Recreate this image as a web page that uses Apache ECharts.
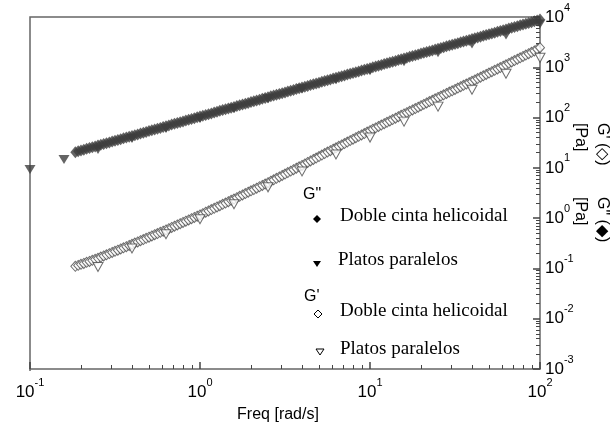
<!DOCTYPE html>
<html><head><meta charset="utf-8">
<script src="https://cdn.jsdelivr.net/npm/echarts@6/dist/echarts.min.js"></script>
<style>html,body{margin:0;padding:0;background:#fff}#c{width:611px;height:428px}</style>
</head><body><div id="c"></div>
<script>
// Dense sweep (Doble cinta helicoidal)
const freqDense = [0.1848,0.192,0.1995,0.2073,0.2154,0.2238,0.2326,0.2417,0.2512,0.261,0.2712,0.2818,0.2929,0.3043,0.3162,0.3286,0.3415,0.3548,0.3687,0.3831,0.3981,0.4137,0.4299,0.4467,0.4642,0.4823,0.5012,0.5208,0.5412,0.5623,0.5843,0.6072,0.631,0.6556,0.6813,0.7079,0.7356,0.7644,0.7943,0.8254,0.8577,0.8913,0.9261,0.9624,
1,1.039,1.08,1.122,1.166,1.212,1.259,1.308,1.359,1.413,1.468,1.525,1.585,1.647,1.711,1.778,1.848,1.92,1.995,2.073,2.154,2.239,2.326,2.417,2.512,2.61,2.712,2.818,2.929,3.043,3.162,3.286,3.415,3.548,3.687,3.831,3.981,4.137,4.299,4.467,4.642,4.823,5.012,5.208,5.412,5.623,5.843,6.072,6.31,6.556,6.813,7.079,7.356,7.644,7.943,8.254,8.577,8.913,9.261,9.624,
10,10.39,10.8,11.22,11.66,12.12,12.59,13.08,13.59,14.13,14.68,15.25,15.85,16.47,17.11,17.78,18.48,19.2,19.95,20.73,21.54,22.39,23.26,24.17,25.12,26.1,27.12,28.18,29.29,30.43,31.62,32.86,34.15,35.48,36.87,38.31,39.81,41.37,42.99,44.67,46.42,48.23,50.12,52.08,54.12,56.23,58.43,60.72,63.1,65.56,68.13,70.79,73.56,76.44,79.43,82.54,85.77,89.13,92.61,96.24,100];
const gppDoble = [20.4,21.3,22.2,23.0,23.9,24.8,25.8,26.7,27.7,28.8,29.9,31.0,32.1,33.3,34.5,35.8,37.2,38.7,40.2,41.6,43.1,44.7,46.3,48.1,50.0,51.9,53.9,55.9,58.0,60.1,62.3,64.7,67.2,69.8,72.5,75.2,77.9,80.8,83.8,87.0,90.3,93.8,97.4,101,
105,109,113,117,121,126,131,136,141,146,152,157,163,169,176,182,189,196,204,211,219,227,236,245,254,264,274,284,295,306,317,329,342,355,368,382,396,411,426,442,459,476,494,513,532,552,573,595,617,640,664,689,715,742,770,799,829,860,893,926,
961,997,1035,1074,1114,1156,1200,1245,1292,1341,1391,1444,1498,1554,1613,1674,1736,1802,1870,1940,2013,2089,2167,2249,2334,2422,2513,2607,2705,2807,2913,3023,3137,3255,3377,3504,3636,3773,3915,4063,4216,4374,4539,4710,4887,5071,5262,5460,5666,5879,6100,6330,6568,6815,7072,7338,7614,7901,8198,8530,8900];
const gpDoble = [0.110,0.115,0.121,0.126,0.132,0.138,0.145,0.152,0.159,0.168,0.177,0.187,0.197,0.208,0.219,0.231,0.244,0.257,0.271,0.286,0.302,0.319,0.337,0.356,0.376,0.397,0.419,0.443,0.468,0.494,0.522,0.551,0.582,0.617,0.653,0.692,0.733,0.776,0.822,0.871,0.923,0.977,1.035,1.096,
1.16,1.23,1.31,1.39,1.48,1.57,1.67,1.77,1.88,2.00,2.13,2.26,2.40,2.55,2.72,2.89,3.08,3.28,3.49,3.71,3.95,4.21,4.48,4.77,5.07,5.42,5.79,6.19,6.61,7.06,7.54,8.06,8.61,9.20,9.83,10.5,11.2,12.0,12.8,13.7,14.7,15.7,16.8,18.0,19.2,20.6,22.0,23.5,25.1,26.8,28.6,30.5,32.6,34.8,37.2,39.7,42.3,45.2,48.2,51.5,
55.0,58.6,62.4,66.5,70.8,75.4,80.4,85.6,91.2,97.4,104,111,118,125,133,142,151,161,172,183,195,208,221,236,251,267,284,302,321,341,363,386,411,437,464,494,525,559,596,635,676,720,767,817,871,928,989,1053,1122,1196,1274,1357,1445,1540,1641,1748,1862,1984,2113,2290,2450];
// Platos paralelos
const freqPlatosGpp = [0.1,0.1585,0.2512,0.3981,0.631,1,1.585,2.512,3.981,6.31,10,15.85,25.12,39.81,63.1,100];
const gppPlatos = [9.3,14.7,23.2,38.4,60.5,95.5,151,238,375,565,853,1285,1937,2917,4400,7260];
const freqPlatosGp = [0.2512,0.3981,0.631,1,1.585,2.512,3.981,6.31,10,15.85,25.12,39.81,63.1,100];
const gpPlatos = [0.107,0.25,0.48,0.95,1.89,4.1,8.5,18.5,40,83,165,358,743,1542];
// Axis ticks
const xMinorTicks = [0.2,0.3,0.4,0.5,0.6,0.7,0.8,0.9,2,3,4,5,6,7,8,9,20,30,40,50,60,70,80,90];
const yMinorTicks = [0.002,0.003,0.004,0.005,0.006,0.007,0.008,0.009,0.02,0.03,0.04,0.05,0.06,0.07,0.08,0.09,0.2,0.3,0.4,0.5,0.6,0.7,0.8,0.9,2,3,4,5,6,7,8,9,20,30,40,50,60,70,80,90,200,300,400,500,600,700,800,900,2000,3000,4000,5000,6000,7000,8000,9000];

const zip = (a,b)=>a.map((v,i)=>[v,b[i]]);
const AX = '#666666', TK = '#444444', SER = '#3d3d3d';
const SANS = 'Liberation Sans', SERIF = 'Liberation Serif';
function pow10(v){ const e = Math.round(Math.log10(v)); return '{b|10}{s|' + e + '}'; }
const rich = {
  b:{fontSize:17, lineHeight:30, fontFamily:SANS, color:'#000'},
  s:{fontSize:11, lineHeight:11, fontFamily:SANS, color:'#000', verticalAlign:'top'}
};
const G = {left:30, right:71, top:17, bottom:57};
const W = 611, H = 428;
const chart = echarts.init(document.getElementById('c'));
chart.setOption({
  animation:false,
  backgroundColor:'#fff',
  grid:G,
  xAxis:[
    {type:'log', min:0.1, max:100, position:'bottom', splitLine:{show:false},
      axisLine:{show:true, lineStyle:{color:AX, width:1.5}},
      axisTick:{show:true, inside:true, length:7, lineStyle:{color:TK, width:1.5}},
      axisLabel:{show:true, margin:8, formatter:pow10, rich:rich},
      name:'Freq [rad/s]', nameLocation:'middle', nameGap:38, nameTextStyle:{fontSize:16, fontFamily:SANS, color:'#000', padding:[0,14,0,0]}},
    {type:'log', min:0.1, max:100, position:'bottom', splitLine:{show:false}, axisLine:{show:false}, axisLabel:{show:false},
      axisTick:{show:true, inside:true, length:4, customValues:xMinorTicks, lineStyle:{color:TK, width:1}}}
  ],
  yAxis:[
    {type:'log', min:0.001, max:10000, interval:1, position:'right', splitLine:{show:false},
      axisLine:{show:true, lineStyle:{color:AX, width:1.5}},
      axisTick:{show:true, inside:true, length:7, lineStyle:{color:TK, width:1.5}},
      axisLabel:{show:true, margin:5, formatter:pow10, rich:rich}},
    {type:'log', min:0.001, max:10000, position:'right', splitLine:{show:false}, axisLine:{show:false}, axisLabel:{show:false},
      axisTick:{show:true, inside:true, length:4, customValues:yMinorTicks, lineStyle:{color:TK, width:1}}}
  ],
  series:[
    {name:'G" Platos paralelos', type:'scatter', data:zip(freqPlatosGpp,gppPlatos),
      symbol:'triangle', symbolRotate:180, symbolSize:[11,9], itemStyle:{color:SER}, clip:false},
    {name:'G" Doble cinta helicoidal', type:'scatter', data:zip(freqDense,gppDoble),
      symbol:'diamond', symbolSize:[10,12], itemStyle:{color:SER}},
    {name:"G' Doble cinta helicoidal", type:'scatter', data:zip(freqDense,gpDoble),
      symbol:'diamond', symbolSize:[9,10], itemStyle:{color:'#fff', borderColor:'#4a4a4a', borderWidth:1}},
    {name:"G' Platos paralelos", type:'scatter', data:zip(freqPlatosGp,gpPlatos),
      symbol:'triangle', symbolRotate:180, symbolSize:[10,9], itemStyle:{color:'#fff', borderColor:'#4a4a4a', borderWidth:1}}
  ],
  graphic:[
    {type:'polyline', shape:{points:[[G.left, H-G.bottom],[G.left, G.top],[W-G.right, G.top]]}, style:{stroke:AX, lineWidth:1.5, fill:null}, silent:true},
    {type:'text', x:303, y:195, style:{text:'G"', fontSize:16, fontFamily:SANS, fill:'#000', align:'left', verticalAlign:'middle'}},
    {type:'polygon', shape:{points:[[317,215],[321,219],[317,223],[313,219]]}, style:{fill:'#000'}},
    {type:'text', x:340, y:216, style:{text:'Doble cinta helicoidal', fontSize:19, fontFamily:SERIF, fill:'#000', align:'left', verticalAlign:'middle'}},
    {type:'polygon', shape:{points:[[313,261],[321,261],[317,267]]}, style:{fill:'#000'}},
    {type:'text', x:338, y:260, style:{text:'Platos paralelos', fontSize:19, fontFamily:SERIF, fill:'#000', align:'left', verticalAlign:'middle'}},
    {type:'text', x:304, y:297, style:{text:"G'", fontSize:16, fontFamily:SANS, fill:'#000', align:'left', verticalAlign:'middle'}},
    {type:'polygon', shape:{points:[[318,310],[322,314],[318,318],[314,314]]}, style:{fill:'#fff', stroke:'#000', lineWidth:1}},
    {type:'text', x:340, y:311, style:{text:'Doble cinta helicoidal', fontSize:19, fontFamily:SERIF, fill:'#000', align:'left', verticalAlign:'middle'}},
    {type:'polygon', shape:{points:[[316,349],[324,349],[320,355]]}, style:{fill:'#fff', stroke:'#000', lineWidth:1}},
    {type:'text', x:340, y:349, style:{text:'Platos paralelos', fontSize:19, fontFamily:SERIF, fill:'#000', align:'left', verticalAlign:'middle'}},
    {type:'text', x:613, y:123, rotation:-Math.PI/2, style:{text:"G' (◇)\n[Pa]", fontSize:16, lineHeight:22, fontFamily:SANS, fill:'#000', align:'left', verticalAlign:'top'}},
    {type:'text', x:613, y:197, rotation:-Math.PI/2, style:{text:'G" (◆)\n[Pa]', fontSize:16, lineHeight:22, fontFamily:SANS, fill:'#000', align:'left', verticalAlign:'top'}}
  ]
});
</script></body></html>
